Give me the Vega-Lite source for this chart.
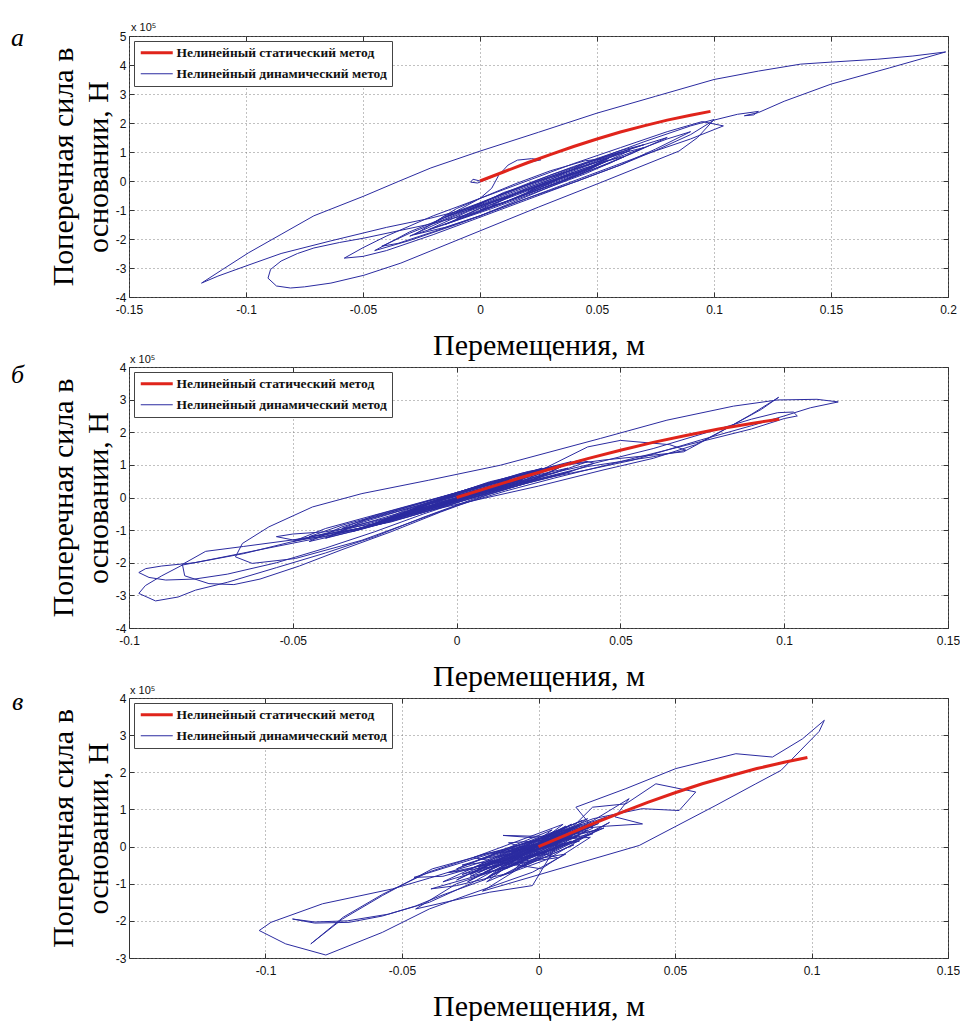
{
"$schema": "https://vega.github.io/schema/vega-lite/v6.json",
"background": "white",
"padding": {"left": 10, "top": 21, "right": 4, "bottom": 2},
"bounds": "flush",
"spacing": 70,
"config": {
  "view": {"stroke": "#333", "strokeWidth": 1},
  "axis": {"domain": false, "grid": true, "gridColor": "#777", "gridDash": [1, 3], "gridWidth": 1, "gridOpacity": 0.9, "tickCount": 20,
    "ticks": true, "tickSize": -5, "tickColor": "#333", "labelFont": "Liberation Sans", "labelFontSize": 12, "labelColor": "#111",
    "labelFlush": false, "labelOverlap": false, "titleFont": "Liberation Serif", "titleFontSize": 30, "titleFontWeight": "normal", "titleColor": "#000"},
  "axisX": {"labelPadding": 12, "titlePadding": 15},
  "axisY": {"labelPadding": 8, "titlePadding": 2, "titleLineHeight": 35},
  "legend": {"orient": "top-left", "offset": 5, "padding": 5, "fillColor": "white", "strokeColor": "#444", "cornerRadius": 0,
    "symbolType": "M-1,0H5.4", "symbolSize": 100, "labelFont": "Liberation Serif", "labelFontSize": 13.5, "labelFontWeight": "bold",
    "labelOffset": 24, "rowPadding": 6, "labelColor": "#111", "labelLimit": 400}
},
"resolve": {"scale": {"color": "independent", "x": "independent", "y": "independent"}, "legend": {"color": "independent"}},
"datasets": {
"stat": [{"i":0,"x":0,"y":0},{"i":1,"x":0.01,"y":0.31},{"i":2,"x":0.02,"y":0.62},{"i":3,"x":0.03,"y":0.91},{"i":4,"x":0.04,"y":1.19},{"i":5,"x":0.05,"y":1.45},{"i":6,"x":0.06,"y":1.69},{"i":7,"x":0.07,"y":1.9},{"i":8,"x":0.08,"y":2.1},{"i":9,"x":0.09,"y":2.27},{"i":10,"x":0.0985,"y":2.4}],
"a_dyn": [
{"i":0,"x":0,"y":0},{"i":1,"x":-0.003,"y":0.06},{"i":2,"x":-0.004,"y":-0.04},{"i":3,"x":-0.001,"y":-0.07},{"i":4,"x":0.004,"y":0.1},{"i":5,"x":0.01,"y":0.3},{"i":6,"x":0.016,"y":0.5},{"i":7,"x":0.022,"y":0.66},{"i":8,"x":0.026,"y":0.73},{"i":9,"x":0.022,"y":0.77},
{"i":10,"x":0.016,"y":0.72},{"i":11,"x":0.012,"y":0.55},{"i":12,"x":0.008,"y":0.2},{"i":13,"x":0.005,"y":-0.25},{"i":14,"x":0,"y":-0.6},{"i":15,"x":-0.008,"y":-0.95},{"i":16,"x":-0.015,"y":-1.25},{"i":17,"x":-0.02,"y":-1.45},{"i":18,"x":-0.01,"y":-0.95},{"i":19,"x":0,"y":-0.6},
{"i":20,"x":0.015,"y":-0.1},{"i":21,"x":0.03,"y":0.35},{"i":22,"x":0.045,"y":0.7},{"i":23,"x":0.055,"y":0.78},{"i":24,"x":0.045,"y":0.3},{"i":25,"x":0.03,"y":-0.2},{"i":26,"x":0.015,"y":-0.7},{"i":27,"x":0,"y":-1.2},{"i":28,"x":-0.015,"y":-1.6},{"i":29,"x":-0.028,"y":-1.85},
{"i":30,"x":-0.015,"y":-1.2},{"i":31,"x":0,"y":-0.75},{"i":32,"x":0.02,"y":-0.1},{"i":33,"x":0.04,"y":0.5},{"i":34,"x":0.06,"y":1.05},{"i":35,"x":0.07,"y":1.25},{"i":36,"x":0.05,"y":0.75},{"i":37,"x":0.03,"y":0.2},{"i":38,"x":0.01,"y":-0.45},{"i":39,"x":-0.005,"y":-0.95},
{"i":40,"x":-0.021,"y":-1.28},{"i":41,"x":-0.04,"y":-1.6},{"i":42,"x":-0.064,"y":-2.07},{"i":43,"x":-0.085,"y":-2.5},{"i":44,"x":-0.1,"y":-2.93},{"i":45,"x":-0.112,"y":-3.28},{"i":46,"x":-0.119,"y":-3.52},{"i":47,"x":-0.11,"y":-3.05},{"i":48,"x":-0.099,"y":-2.48},{"i":49,"x":-0.085,"y":-1.84},
{"i":50,"x":-0.071,"y":-1.2},{"i":51,"x":-0.0496,"y":-0.52},{"i":52,"x":-0.035,"y":-0.02},{"i":53,"x":-0.021,"y":0.45},{"i":54,"x":0,"y":1.03},{"i":55,"x":0.025,"y":1.68},{"i":56,"x":0.05,"y":2.34},{"i":57,"x":0.075,"y":2.92},{"i":58,"x":0.1,"y":3.5},{"i":59,"x":0.119,"y":3.79},
{"i":60,"x":0.137,"y":4.03},{"i":61,"x":0.15,"y":4.1},{"i":62,"x":0.17,"y":4.2},{"i":63,"x":0.185,"y":4.31},{"i":64,"x":0.199,"y":4.45},{"i":65,"x":0.175,"y":3.9},{"i":66,"x":0.15,"y":3.34},{"i":67,"x":0.13,"y":2.75},{"i":68,"x":0.119,"y":2.36},{"i":69,"x":0.113,"y":2.25},
{"i":70,"x":0.117,"y":2.28},{"i":71,"x":0.119,"y":2.4},{"i":72,"x":0.11,"y":2.3},{"i":73,"x":0.1,"y":2.1},{"i":74,"x":0.09,"y":1.6},{"i":75,"x":0.075,"y":1.05},{"i":76,"x":0.06,"y":0.55},{"i":77,"x":0.04,"y":-0.05},{"i":78,"x":0.02,"y":-0.65},{"i":79,"x":0,"y":-1.25},
{"i":80,"x":-0.02,"y":-1.85},{"i":81,"x":-0.04,"y":-2.4},{"i":82,"x":-0.05,"y":-2.6},{"i":83,"x":-0.058,"y":-2.66},{"i":84,"x":-0.05,"y":-2.3},{"i":85,"x":-0.04,"y":-1.9},{"i":86,"x":-0.02,"y":-1.2},{"i":87,"x":0,"y":-0.6},{"i":88,"x":0.02,"y":0},{"i":89,"x":0.04,"y":0.6},
{"i":90,"x":0.06,"y":1.15},{"i":91,"x":0.08,"y":1.7},{"i":92,"x":0.095,"y":2.05},{"i":93,"x":0.104,"y":1.9},{"i":94,"x":0.09,"y":1.45},{"i":95,"x":0.07,"y":0.9},{"i":96,"x":0.05,"y":0.3},{"i":97,"x":0.03,"y":-0.3},{"i":98,"x":0.01,"y":-0.9},{"i":99,"x":-0.01,"y":-1.5},
{"i":100,"x":-0.03,"y":-2.05},{"i":101,"x":-0.045,"y":-2.4},{"i":102,"x":-0.03,"y":-1.75},{"i":103,"x":-0.01,"y":-1.1},{"i":104,"x":0.01,"y":-0.45},{"i":105,"x":0.03,"y":0.15},{"i":106,"x":0.05,"y":0.75},{"i":107,"x":0.07,"y":1.35},{"i":108,"x":0.09,"y":1.9},{"i":109,"x":0.1,"y":2.12},
{"i":110,"x":0.093,"y":1.5},{"i":111,"x":0.085,"y":1.03},{"i":112,"x":0.0517,"y":-0.05},{"i":113,"x":0.025,"y":-0.9},{"i":114,"x":0,"y":-1.72},{"i":115,"x":-0.021,"y":-2.41},{"i":116,"x":-0.0338,"y":-2.83},{"i":117,"x":-0.0496,"y":-3.25},{"i":118,"x":-0.0637,"y":-3.52},{"i":119,"x":-0.075,"y":-3.65},
{"i":120,"x":-0.081,"y":-3.69},{"i":121,"x":-0.087,"y":-3.62},{"i":122,"x":-0.0906,"y":-3.35},{"i":123,"x":-0.0895,"y":-3.05},{"i":124,"x":-0.085,"y":-2.76},{"i":125,"x":-0.078,"y":-2.5},{"i":126,"x":-0.071,"y":-2.31},{"i":127,"x":-0.06,"y":-2.12},{"i":128,"x":-0.0496,"y":-1.97},{"i":129,"x":-0.035,"y":-1.72},
{"i":130,"x":-0.021,"y":-1.48},{"i":131,"x":-0.005,"y":-1.15},{"i":132,"x":0.01,"y":-0.75},{"i":133,"x":0.02,"y":-0.4},{"i":134,"x":0.035,"y":0.1},{"i":135,"x":0.05,"y":0.55},{"i":136,"x":0.065,"y":1},{"i":137,"x":0.08,"y":1.45},{"i":138,"x":0.09,"y":1.7},{"i":139,"x":0.075,"y":1.1},
{"i":140,"x":0.06,"y":0.55},{"i":141,"x":0.04,"y":-0.05},{"i":142,"x":0.02,"y":-0.6},{"i":143,"x":0,"y":-1.2},{"i":144,"x":-0.02,"y":-1.75},{"i":145,"x":-0.035,"y":-2.15},{"i":146,"x":-0.042,"y":-2.25},{"i":147,"x":-0.03,"y":-1.8},{"i":148,"x":-0.01,"y":-1.15},{"i":149,"x":0.01,"y":-0.5},
{"i":150,"x":0.03,"y":0.1},{"i":151,"x":0.05,"y":0.7},{"i":152,"x":0.068,"y":1.2},{"i":153,"x":0.08,"y":1.5},{"i":154,"x":0.065,"y":0.95},{"i":155,"x":0.045,"y":0.3},{"i":156,"x":0.025,"y":-0.3},{"i":157,"x":0.005,"y":-0.9},{"i":158,"x":-0.015,"y":-1.5},{"i":159,"x":-0.03,"y":-1.9},
{"i":160,"x":-0.015,"y":-1.35},{"i":161,"x":0.005,"y":-0.7},{"i":162,"x":0.025,"y":-0.1},{"i":163,"x":0.045,"y":0.5},{"i":164,"x":0.06,"y":0.95},{"i":165,"x":0.07,"y":1.15},{"i":166,"x":0.055,"y":0.6},{"i":167,"x":0.035,"y":0},{"i":168,"x":0.015,"y":-0.6},{"i":169,"x":-0.005,"y":-1.2},
{"i":170,"x":-0.022,"y":-1.68},{"i":171,"x":-0.005,"y":-1.05},{"i":172,"x":0.015,"y":-0.45},{"i":173,"x":0.035,"y":0.15},{"i":174,"x":0.052,"y":0.65},{"i":175,"x":0.062,"y":0.85},{"i":176,"x":0.045,"y":0.25},{"i":177,"x":0.025,"y":-0.35},{"i":178,"x":0.005,"y":-0.95},{"i":179,"x":-0.015,"y":-1.5},
{"i":180,"x":0,"y":-0.95},{"i":181,"x":0.02,"y":-0.35},{"i":182,"x":0.04,"y":0.25},{"i":183,"x":0.055,"y":0.72},{"i":184,"x":0.04,"y":0.15},{"i":185,"x":0.02,"y":-0.45},{"i":186,"x":0,"y":-1.05},{"i":187,"x":-0.01,"y":-1.3},{"i":188,"x":0.005,"y":-0.75},{"i":189,"x":0.025,"y":-0.15},
{"i":190,"x":0.045,"y":0.45},{"i":191,"x":0.05,"y":0.55},{"i":192,"x":0.035,"y":0},{"i":193,"x":0.015,"y":-0.6},{"i":194,"x":0,"y":-1},{"i":195,"x":0.015,"y":-0.45},{"i":196,"x":0.03,"y":0},{"i":197,"x":0.04,"y":0.3},{"i":198,"x":0.025,"y":-0.25},{"i":199,"x":0.01,"y":-0.75},
{"i":200,"x":0.005,"y":-0.85},{"i":201,"x":0.02,"y":-0.25},{"i":202,"x":0.03,"y":0.05},{"i":203,"x":0.045,"y":0.6},{"i":204,"x":0.06,"y":1},{"i":205,"x":0.045,"y":0.4},{"i":206,"x":0.02,"y":-0.3},{"i":207,"x":0,"y":-0.85},{"i":208,"x":-0.015,"y":-1.25},{"i":209,"x":0.005,"y":-0.6},
{"i":210,"x":0.03,"y":0.15},{"i":211,"x":0.05,"y":0.65},{"i":212,"x":0.064,"y":1.05},{"i":213,"x":0.048,"y":0.45},{"i":214,"x":0.028,"y":-0.1},{"i":215,"x":0.01,"y":-0.6},{"i":216,"x":-0.005,"y":-1},{"i":217,"x":0.01,"y":-0.4},{"i":218,"x":0.035,"y":0.25},{"i":219,"x":0.055,"y":0.8},
{"i":220,"x":0.04,"y":0.2},{"i":221,"x":0.02,"y":-0.4},{"i":222,"x":0.028,"y":-0.05}
],
"b_dyn": [
{"i":0,"x":0,"y":0},{"i":1,"x":0.005,"y":0.2},{"i":2,"x":0.01,"y":0.32},{"i":3,"x":0.006,"y":0.12},{"i":4,"x":-0.002,"y":-0.12},{"i":5,"x":-0.008,"y":-0.28},{"i":6,"x":-0.004,"y":-0.05},{"i":7,"x":0.006,"y":0.3},{"i":8,"x":0.014,"y":0.5},{"i":9,"x":0.008,"y":0.15},
{"i":10,"x":-0.004,"y":-0.22},{"i":11,"x":-0.014,"y":-0.45},{"i":12,"x":-0.006,"y":-0.1},{"i":13,"x":0.008,"y":0.4},{"i":14,"x":0.018,"y":0.65},{"i":15,"x":0.01,"y":0.25},{"i":16,"x":-0.005,"y":-0.25},{"i":17,"x":-0.018,"y":-0.6},{"i":18,"x":-0.008,"y":-0.15},{"i":19,"x":0.01,"y":0.45},
{"i":20,"x":0.024,"y":0.8},{"i":21,"x":0.012,"y":0.3},{"i":22,"x":-0.006,"y":-0.3},{"i":23,"x":-0.022,"y":-0.72},{"i":24,"x":-0.01,"y":-0.2},{"i":25,"x":0.01,"y":0.48},{"i":26,"x":0.03,"y":0.95},{"i":27,"x":0.045,"y":1.15},{"i":28,"x":0.06,"y":1.3},{"i":29,"x":0.0693,"y":1.4},
{"i":30,"x":0.08,"y":1.98},{"i":31,"x":0.09,"y":2.55},{"i":32,"x":0.0983,"y":3.07},{"i":33,"x":0.093,"y":2.7},{"i":34,"x":0.083,"y":2.15},{"i":35,"x":0.073,"y":1.62},{"i":36,"x":0.06,"y":1.2},{"i":37,"x":0.045,"y":0.85},{"i":38,"x":0.025,"y":0.35},{"i":39,"x":0.005,"y":-0.1},
{"i":40,"x":-0.015,"y":-0.55},{"i":41,"x":-0.03,"y":-0.95},{"i":42,"x":-0.045,"y":-1.3},{"i":43,"x":-0.06,"y":-1.6},{"i":44,"x":-0.075,"y":-1.9},{"i":45,"x":-0.0837,"y":-2.07},{"i":46,"x":-0.09,"y":-2.4},{"i":47,"x":-0.095,"y":-2.7},{"i":48,"x":-0.097,"y":-2.94},{"i":49,"x":-0.0919,"y":-3.17},
{"i":50,"x":-0.085,"y":-3.05},{"i":51,"x":-0.0797,"y":-2.84},{"i":52,"x":-0.07,"y":-2.6},{"i":53,"x":-0.055,"y":-2.15},{"i":54,"x":-0.04,"y":-1.7},{"i":55,"x":-0.025,"y":-1.2},{"i":56,"x":-0.01,"y":-0.6},{"i":57,"x":0.005,"y":-0.05},{"i":58,"x":0.02,"y":0.4},{"i":59,"x":0.035,"y":0.8},
{"i":60,"x":0.042,"y":1.05},{"i":61,"x":0.038,"y":1.15},{"i":62,"x":0.03,"y":0.95},{"i":63,"x":0.015,"y":0.5},{"i":64,"x":0,"y":0.05},{"i":65,"x":-0.015,"y":-0.4},{"i":66,"x":-0.03,"y":-0.85},{"i":67,"x":-0.05,"y":-1.35},{"i":68,"x":-0.065,"y":-1.72},{"i":69,"x":-0.08,"y":-2},
{"i":70,"x":-0.09,"y":-2.1},{"i":71,"x":-0.0949,"y":-2.18},{"i":72,"x":-0.097,"y":-2.3},{"i":73,"x":-0.0939,"y":-2.45},{"i":74,"x":-0.0888,"y":-2.53},{"i":75,"x":-0.08,"y":-2.5},{"i":76,"x":-0.07,"y":-2.35},{"i":77,"x":-0.055,"y":-2},{"i":78,"x":-0.04,"y":-1.55},{"i":79,"x":-0.025,"y":-1.05},
{"i":80,"x":-0.01,"y":-0.5},{"i":81,"x":0.005,"y":0},{"i":82,"x":0.02,"y":0.45},{"i":83,"x":0.035,"y":0.8},{"i":84,"x":0.028,"y":0.6},{"i":85,"x":0.012,"y":0.2},{"i":86,"x":-0.005,"y":-0.3},{"i":87,"x":-0.02,"y":-0.75},{"i":88,"x":-0.035,"y":-1.05},{"i":89,"x":-0.05,"y":-1.3},
{"i":90,"x":-0.065,"y":-1.5},{"i":91,"x":-0.0766,"y":-1.65},{"i":92,"x":-0.0837,"y":-2.05},{"i":93,"x":-0.083,"y":-2.4},{"i":94,"x":-0.0756,"y":-2.64},{"i":95,"x":-0.068,"y":-2.67},{"i":96,"x":-0.06,"y":-2.5},{"i":97,"x":-0.048,"y":-2.1},{"i":98,"x":-0.035,"y":-1.6},{"i":99,"x":-0.02,"y":-1.05},
{"i":100,"x":-0.005,"y":-0.45},{"i":101,"x":0.01,"y":0.1},{"i":102,"x":0.025,"y":0.55},{"i":103,"x":0.04,"y":0.85},{"i":104,"x":0.054,"y":1.15},{"i":105,"x":0.0744,"y":1.76},{"i":106,"x":0.09,"y":2.2},{"i":107,"x":0.1,"y":2.5},{"i":108,"x":0.108,"y":2.75},{"i":109,"x":0.1165,"y":2.93},
{"i":110,"x":0.11,"y":3.01},{"i":111,"x":0.098,"y":2.99},{"i":112,"x":0.0845,"y":2.8},{"i":113,"x":0.0642,"y":2.37},{"i":114,"x":0.0439,"y":1.81},{"i":115,"x":0.0134,"y":0.99},{"i":116,"x":-0.0085,"y":0.53},{"i":117,"x":-0.0289,"y":0.12},{"i":118,"x":-0.044,"y":-0.29},{"i":119,"x":-0.0573,"y":-0.9},
{"i":120,"x":-0.0654,"y":-1.41},{"i":121,"x":-0.0675,"y":-1.82},{"i":122,"x":-0.0624,"y":-2.02},{"i":123,"x":-0.0492,"y":-1.87},{"i":124,"x":-0.0289,"y":-1.31},{"i":125,"x":-0.015,"y":-0.8},{"i":126,"x":0,"y":-0.25},{"i":127,"x":0.015,"y":0.2},{"i":128,"x":0.03,"y":0.6},{"i":129,"x":0.05,"y":1.1},
{"i":130,"x":0.07,"y":1.6},{"i":131,"x":0.09,"y":2.1},{"i":132,"x":0.1,"y":2.42},{"i":133,"x":0.104,"y":2.5},{"i":134,"x":0.1028,"y":2.62},{"i":135,"x":0.098,"y":2.6},{"i":136,"x":0.09,"y":2.4},{"i":137,"x":0.075,"y":1.95},{"i":138,"x":0.06,"y":1.5},{"i":139,"x":0.04,"y":1},
{"i":140,"x":0.025,"y":0.65},{"i":141,"x":0.005,"y":0.15},{"i":142,"x":-0.01,"y":-0.3},{"i":143,"x":-0.025,"y":-0.8},{"i":144,"x":-0.04,"y":-1.05},{"i":145,"x":-0.05,"y":-1.12},{"i":146,"x":-0.055,"y":-1.2},{"i":147,"x":-0.05,"y":-1.3},{"i":148,"x":-0.04,"y":-1.2},{"i":149,"x":-0.025,"y":-0.85},
{"i":150,"x":-0.01,"y":-0.4},{"i":151,"x":0.005,"y":0.1},{"i":152,"x":0.02,"y":0.55},{"i":153,"x":0.03,"y":1.05},{"i":154,"x":0.04,"y":1.55},{"i":155,"x":0.05,"y":1.75},{"i":156,"x":0.065,"y":1.62},{"i":157,"x":0.07,"y":1.45},{"i":158,"x":0.06,"y":1.25},{"i":159,"x":0.04,"y":0.95},
{"i":160,"x":0.03,"y":0.7},{"i":161,"x":0.015,"y":0.3},{"i":162,"x":0,"y":-0.05},{"i":163,"x":-0.015,"y":-0.5},{"i":164,"x":-0.028,"y":-0.9},{"i":165,"x":-0.018,"y":-0.55},{"i":166,"x":-0.005,"y":-0.15},{"i":167,"x":0.01,"y":0.3},{"i":168,"x":0.025,"y":0.7},{"i":169,"x":0.034,"y":0.9},
{"i":170,"x":0.022,"y":0.5},{"i":171,"x":0.008,"y":0.1},{"i":172,"x":-0.008,"y":-0.35},{"i":173,"x":-0.024,"y":-0.8},{"i":174,"x":-0.012,"y":-0.4},{"i":175,"x":0.004,"y":0.05},{"i":176,"x":0.018,"y":0.45},{"i":177,"x":0.028,"y":0.75},{"i":178,"x":0.016,"y":0.35},{"i":179,"x":0.002,"y":-0.05},
{"i":180,"x":-0.012,"y":-0.45},{"i":181,"x":-0.02,"y":-0.65},{"i":182,"x":-0.008,"y":-0.25},{"i":183,"x":0.006,"y":0.15},{"i":184,"x":0.02,"y":0.55},{"i":185,"x":0.012,"y":0.3},{"i":186,"x":-0.002,"y":-0.1},{"i":187,"x":-0.014,"y":-0.4},{"i":188,"x":-0.004,"y":-0.05},{"i":189,"x":0.01,"y":0.35},
{"i":190,"x":0.028,"y":0.85},{"i":191,"x":0.02,"y":0.5},{"i":192,"x":0,"y":-0.05},{"i":193,"x":-0.02,"y":-0.6},{"i":194,"x":-0.035,"y":-0.95},{"i":195,"x":-0.025,"y":-0.55},{"i":196,"x":-0.005,"y":0},{"i":197,"x":0.015,"y":0.55},{"i":198,"x":0.026,"y":0.9},{"i":199,"x":0.018,"y":0.45},
{"i":200,"x":0,"y":-0.1},{"i":201,"x":-0.018,"y":-0.65},{"i":202,"x":-0.032,"y":-1.05},{"i":203,"x":-0.02,"y":-0.6},{"i":204,"x":0,"y":0.1},{"i":205,"x":0.02,"y":0.7},{"i":206,"x":0.032,"y":0.95},{"i":207,"x":0.02,"y":0.4},{"i":208,"x":0.002,"y":-0.1},{"i":209,"x":-0.015,"y":-0.6},
{"i":210,"x":-0.04,"y":-1.25},{"i":211,"x":-0.03,"y":-0.8},{"i":212,"x":-0.012,"y":-0.25},{"i":213,"x":0.008,"y":0.35},{"i":214,"x":0.022,"y":0.75},{"i":215,"x":0.012,"y":0.3},{"i":216,"x":-0.006,"y":-0.25},{"i":217,"x":-0.026,"y":-0.85},{"i":218,"x":-0.016,"y":-0.4},{"i":219,"x":0,"y":0.1},
{"i":220,"x":0.016,"y":0.55},{"i":221,"x":0.006,"y":0.15},{"i":222,"x":-0.01,"y":-0.35},{"i":223,"x":-0.03,"y":-0.95},{"i":224,"x":-0.045,"y":-1.2},{"i":225,"x":-0.035,"y":-0.85},{"i":226,"x":-0.015,"y":-0.3},{"i":227,"x":0.005,"y":0.3},{"i":228,"x":0.025,"y":0.85},{"i":229,"x":0.035,"y":1.1},
{"i":230,"x":0.025,"y":0.6},{"i":231,"x":0.008,"y":0.15},{"i":232,"x":-0.01,"y":-0.4},{"i":233,"x":-0.022,"y":-0.7},{"i":234,"x":-0.012,"y":-0.3},{"i":235,"x":0.003,"y":0.12},{"i":236,"x":0.014,"y":0.42},{"i":237,"x":0.004,"y":0.08},{"i":238,"x":-0.008,"y":-0.2},{"i":239,"x":-0.025,"y":-0.75},
{"i":240,"x":-0.042,"y":-1.2},{"i":241,"x":-0.05,"y":-1.35},{"i":242,"x":-0.04,"y":-0.95},{"i":243,"x":-0.02,"y":-0.4},{"i":244,"x":0,"y":0.15},{"i":245,"x":0.02,"y":0.75},{"i":246,"x":0.035,"y":1.05},{"i":247,"x":0.04,"y":1.1},{"i":248,"x":0.03,"y":0.75},{"i":249,"x":0.01,"y":0.2},
{"i":250,"x":-0.01,"y":-0.45},{"i":251,"x":-0.03,"y":-1},{"i":252,"x":-0.045,"y":-1.35},{"i":253,"x":-0.035,"y":-0.9},{"i":254,"x":-0.015,"y":-0.3},{"i":255,"x":0.005,"y":0.3},{"i":256,"x":0.022,"y":0.8},{"i":257,"x":0.03,"y":0.95},{"i":258,"x":0.018,"y":0.5},{"i":259,"x":0,"y":-0.05},
{"i":260,"x":-0.02,"y":-0.7},{"i":261,"x":-0.038,"y":-1.15},{"i":262,"x":-0.028,"y":-0.7},{"i":263,"x":-0.01,"y":-0.2},{"i":264,"x":0.01,"y":0.4},{"i":265,"x":0.026,"y":0.85},{"i":266,"x":0.014,"y":0.35},{"i":267,"x":-0.004,"y":-0.2},{"i":268,"x":-0.022,"y":-0.75},{"i":269,"x":-0.012,"y":-0.3},
{"i":270,"x":0.005,"y":0.2}
],
"c_dyn": [
{"i":0,"x":0,"y":0},{"i":1,"x":0.004,"y":0.25},{"i":2,"x":-0.003,"y":-0.05},{"i":3,"x":0.007,"y":0.3},{"i":4,"x":-0.006,"y":-0.15},{"i":5,"x":0.009,"y":0.4},{"i":6,"x":-0.01,"y":-0.35},{"i":7,"x":0.012,"y":0.45},{"i":8,"x":-0.012,"y":-0.25},{"i":9,"x":0.015,"y":0.55},
{"i":10,"x":-0.015,"y":-0.45},{"i":11,"x":0.01,"y":0.2},{"i":12,"x":-0.018,"y":-0.5},{"i":13,"x":0.018,"y":0.6},{"i":14,"x":-0.02,"y":-0.55},{"i":15,"x":0.014,"y":0.25},{"i":16,"x":-0.013,"y":0.3},{"i":17,"x":0.005,"y":0.2},{"i":18,"x":-0.022,"y":-0.7},{"i":19,"x":0.02,"y":0.55},
{"i":20,"x":-0.025,"y":-0.6},{"i":21,"x":0.016,"y":0.7},{"i":22,"x":-0.02,"y":-0.4},{"i":23,"x":-0.04,"y":-0.85},{"i":24,"x":-0.0535,"y":-1.14},{"i":25,"x":-0.0791,"y":-1.54},{"i":26,"x":-0.098,"y":-2.04},{"i":27,"x":-0.1023,"y":-2.26},{"i":28,"x":-0.0926,"y":-2.62},{"i":29,"x":-0.0779,"y":-2.92},
{"i":30,"x":-0.0572,"y":-2.31},{"i":31,"x":-0.04,"y":-1.68},{"i":32,"x":-0.0266,"y":-1.32},{"i":33,"x":-0.0022,"y":-0.69},{"i":34,"x":0.01,"y":-0.2},{"i":35,"x":-0.01,"y":-0.45},{"i":36,"x":0.015,"y":0.4},{"i":37,"x":-0.018,"y":-0.8},{"i":38,"x":0.02,"y":0.5},{"i":39,"x":0.0137,"y":1.06},
{"i":40,"x":0.032,"y":1.56},{"i":41,"x":0.0503,"y":2.1},{"i":42,"x":0.0723,"y":2.5},{"i":43,"x":0.0857,"y":2.41},{"i":44,"x":0.0967,"y":2.9},{"i":45,"x":0.1047,"y":3.4},{"i":46,"x":0.1028,"y":3.1},{"i":47,"x":0.0888,"y":2.05},{"i":48,"x":0.0796,"y":1.69},{"i":49,"x":0.065,"y":1.11},
{"i":50,"x":0.0369,"y":0.03},{"i":51,"x":-0.0205,"y":-1.2},{"i":52,"x":-0.003,"y":-0.4},{"i":53,"x":-0.025,"y":-0.8},{"i":54,"x":0.012,"y":0.5},{"i":55,"x":-0.025,"y":-1},{"i":56,"x":-0.04,"y":-1.5},{"i":57,"x":-0.055,"y":-1.82},{"i":58,"x":-0.07,"y":-2},{"i":59,"x":-0.082,"y":-2.03},
{"i":60,"x":-0.0901,"y":-1.95},{"i":61,"x":-0.082,"y":-2.06},{"i":62,"x":-0.0694,"y":-2.04},{"i":63,"x":-0.0572,"y":-1.87},{"i":64,"x":-0.045,"y":-1.6},{"i":65,"x":-0.035,"y":-1.3},{"i":66,"x":-0.02,"y":-0.9},{"i":67,"x":-0.005,"y":-0.3},{"i":68,"x":0.01,"y":0.1},{"i":69,"x":-0.012,"y":-0.6},
{"i":70,"x":0.008,"y":0.35},{"i":71,"x":-0.0389,"y":-0.6},{"i":72,"x":-0.0572,"y":-1.32},{"i":73,"x":-0.0718,"y":-1.95},{"i":74,"x":-0.0834,"y":-2.62},{"i":75,"x":-0.0715,"y":-1.9},{"i":76,"x":-0.057,"y":-1.28},{"i":77,"x":-0.04,"y":-0.68},{"i":78,"x":-0.02,"y":-0.2},{"i":79,"x":0.005,"y":0.15},
{"i":80,"x":-0.016,"y":-0.65},{"i":81,"x":-0.0394,"y":-1.14},{"i":82,"x":-0.03,"y":-1.05},{"i":83,"x":-0.01,"y":-0.7},{"i":84,"x":0.004,"y":0.3},{"i":85,"x":-0.0456,"y":-0.83},{"i":86,"x":-0.035,"y":-0.8},{"i":87,"x":0.006,"y":0.05},{"i":88,"x":0.0198,"y":1.06},{"i":89,"x":0.032,"y":1.15},
{"i":90,"x":0.043,"y":1.69},{"i":91,"x":0.0576,"y":1.47},{"i":92,"x":0.0515,"y":0.97},{"i":93,"x":0.038,"y":1.02},{"i":94,"x":0.02,"y":0.75},{"i":95,"x":0,"y":0.2},{"i":96,"x":0.02,"y":0.7},{"i":97,"x":0.0332,"y":1.29},{"i":98,"x":0.028,"y":0.8},{"i":99,"x":0.0381,"y":0.61},
{"i":100,"x":0.025,"y":0.55},{"i":101,"x":0.01,"y":0.45},{"i":102,"x":-0.0022,"y":-1.05},{"i":103,"x":-0.018,"y":-1.23},{"i":104,"x":-0.045,"y":-1.68},{"i":105,"x":-0.03,"y":-1},{"i":106,"x":-0.01,"y":-0.5},{"i":107,"x":0.012,"y":0.15},{"i":108,"x":-0.008,"y":-0.6},{"i":109,"x":0.018,"y":0.45},
{"i":110,"x":-0.015,"y":-0.3},{"i":111,"x":0.022,"y":0.62},{"i":112,"x":-0.02,"y":-0.7},{"i":113,"x":0.01,"y":0.35},{"i":114,"x":-0.028,"y":-0.75},{"i":115,"x":0.005,"y":-0.1},{"i":116,"x":0.024,"y":0.5},{"i":117,"x":-0.01,"y":-0.15},{"i":118,"x":0.015,"y":0.3},{"i":119,"x":-0.018,"y":-0.45},
{"i":120,"x":0.008,"y":0.4},{"i":121,"x":-0.005,"y":-0.3},{"i":122,"x":0.012,"y":0.25},{"i":123,"x":0,"y":0.05},{"i":124,"x":-0.022,"y":-0.55},{"i":125,"x":0.006,"y":0.4},{"i":126,"x":-0.03,"y":-0.9},{"i":127,"x":-0.006,"y":-0.05},{"i":128,"x":-0.025,"y":-0.75},{"i":129,"x":0.01,"y":0.55},
{"i":130,"x":-0.015,"y":-0.65},{"i":131,"x":0.02,"y":0.35},{"i":132,"x":-0.012,"y":-0.15},{"i":133,"x":0.025,"y":0.8},{"i":134,"x":-0.008,"y":-0.45},{"i":135,"x":0.018,"y":0.75},{"i":136,"x":-0.03,"y":-0.6},{"i":137,"x":0.005,"y":0.45},{"i":138,"x":-0.02,"y":-0.9},{"i":139,"x":0.012,"y":0.6},
{"i":140,"x":-0.026,"y":-0.95},{"i":141,"x":0.002,"y":0.1},{"i":142,"x":-0.017,"y":-0.2},{"i":143,"x":0.015,"y":0.15},{"i":144,"x":-0.035,"y":-0.95},{"i":145,"x":-0.01,"y":-0.1},{"i":146,"x":-0.028,"y":-0.5},{"i":147,"x":0.004,"y":-0.2},{"i":148,"x":0.022,"y":0.45},{"i":149,"x":-0.004,"y":0.1},
{"i":150,"x":0.016,"y":0.6},{"i":151,"x":-0.022,"y":-0.35},{"i":152,"x":0.008,"y":0.05},{"i":153,"x":-0.014,"y":-0.8},{"i":154,"x":0.003,"y":-0.35},{"i":155,"x":0.026,"y":0.65},{"i":156,"x":-0.006,"y":-0.55},{"i":157,"x":0.013,"y":0.05},{"i":158,"x":-0.019,"y":-0.95},{"i":159,"x":0.009,"y":0.6},
{"i":160,"x":-0.024,"y":-0.3},{"i":161,"x":0.001,"y":-0.6},{"i":162,"x":0.019,"y":0.25},{"i":163,"x":-0.011,"y":0.1},{"i":164,"x":0.007,"y":-0.3},{"i":165,"x":-0.033,"y":-0.7},{"i":166,"x":0,"y":-0.2},{"i":167,"x":0.017,"y":0.5},{"i":168,"x":-0.009,"y":-0.35},{"i":169,"x":0.01,"y":0.2}
]
},
"vconcat": [
{
  "width": 819, "height": 261,
  "resolve": {"axis": {"x": "independent", "y": "independent"}},
  "layer": [
    {"data": {"name": "a_dyn"}, "mark": {"type": "line", "strokeWidth": 1, "clip": true, "strokeJoin": "round"},
     "encoding": {
       "x": {"field": "x", "type": "quantitative", "title": "Перемещения, м", "scale": {"domain": [-0.15, 0.2], "nice": false, "zero": false}, "axis": {"values": [-0.15, -0.1, -0.05, 0, 0.05, 0.1, 0.15, 0.2], "tickCount": 20, "labelExpr": "'' + datum.value", "labelOverlap": false}},
       "y": {"field": "y", "type": "quantitative", "title": ["Поперечная сила в", "основании, Н"], "scale": {"domain": [-4, 5], "nice": false, "zero": false}, "axis": {"values": [-4, -3, -2, -1, 0, 1, 2, 3, 4, 5], "tickCount": 20, "labelExpr": "'' + datum.value", "labelOverlap": false}},
       "order": {"field": "i", "type": "quantitative"},
       "color": {"datum": "Нелинейный динамический метод", "type": "nominal", "scale": {"domain": ["Нелинейный статический метод", "Нелинейный динамический метод"], "range": ["#e0241b", "#2b2ba0"]},
         "legend": {"title": null, "encode": {"symbols": {"update": {"strokeWidth": {"signal": "datum.value === 'Нелинейный статический метод' ? 3 : 1"}}}}}}
     }},
    {"data": {"name": "stat"}, "mark": {"type": "line", "strokeWidth": 3, "clip": true},
     "encoding": {
       "x": {"field": "x", "type": "quantitative", "axis": null},
       "y": {"field": "y", "type": "quantitative", "axis": null},
       "order": {"field": "i", "type": "quantitative"},
       "color": {"datum": "Нелинейный статический метод", "type": "nominal"}
     }},
    {"data": {"values": [{"t": "а"}]}, "mark": {"type": "text", "align": "left", "baseline": "alphabetic", "dx": -118, "dy": 10, "font": "Liberation Serif", "fontStyle": "italic", "fontSize": 26, "color": "#000"},
     "encoding": {"x": {"datum": -0.15, "type": "quantitative", "axis": null}, "y": {"datum": 5, "type": "quantitative", "axis": null}, "text": {"field": "t"}}},
    {"data": {"values": [{"t": "x 10⁵"}]}, "mark": {"type": "text", "align": "left", "baseline": "alphabetic", "dx": 2, "dy": -5, "font": "Liberation Sans", "fontSize": 11, "color": "#111"},
     "encoding": {"x": {"datum": -0.15, "type": "quantitative", "axis": null}, "y": {"datum": 5, "type": "quantitative", "axis": null}, "text": {"field": "t"}}},
    {"data": {"name": "stat"}, "mark": {"type": "line", "opacity": 0},
     "encoding": {
       "x": {"field": "x", "type": "quantitative", "axis": {"orient": "top", "labels": false, "grid": false, "title": null, "values": [-0.15, -0.1, -0.05, 0, 0.05, 0.1, 0.15, 0.2], "tickCount": 20}},
       "y": {"field": "y", "type": "quantitative", "axis": {"orient": "right", "labels": false, "grid": false, "title": null, "values": [-4, -3, -2, -1, 0, 1, 2, 3, 4, 5], "tickCount": 20}}
     }}
  ]
},
{
  "width": 819, "height": 261,
  "resolve": {"axis": {"x": "independent", "y": "independent"}},
  "layer": [
    {"data": {"name": "b_dyn"}, "mark": {"type": "line", "strokeWidth": 1, "clip": true, "strokeJoin": "round"},
     "encoding": {
       "x": {"field": "x", "type": "quantitative", "title": "Перемещения, м", "scale": {"domain": [-0.1, 0.15], "nice": false, "zero": false}, "axis": {"values": [-0.1, -0.05, 0, 0.05, 0.1, 0.15], "tickCount": 20, "labelExpr": "'' + datum.value", "labelOverlap": false}},
       "y": {"field": "y", "type": "quantitative", "title": ["Поперечная сила в", "основании, Н"], "scale": {"domain": [-4, 4], "nice": false, "zero": false}, "axis": {"values": [-4, -3, -2, -1, 0, 1, 2, 3, 4], "tickCount": 20, "labelExpr": "'' + datum.value", "labelOverlap": false}},
       "order": {"field": "i", "type": "quantitative"},
       "color": {"datum": "Нелинейный динамический метод", "type": "nominal", "scale": {"domain": ["Нелинейный статический метод", "Нелинейный динамический метод"], "range": ["#e0241b", "#2b2ba0"]},
         "legend": {"title": null, "encode": {"symbols": {"update": {"strokeWidth": {"signal": "datum.value === 'Нелинейный статический метод' ? 3 : 1"}}}}}}
     }},
    {"data": {"name": "stat"}, "mark": {"type": "line", "strokeWidth": 3, "clip": true},
     "encoding": {
       "x": {"field": "x", "type": "quantitative", "axis": null},
       "y": {"field": "y", "type": "quantitative", "axis": null},
       "order": {"field": "i", "type": "quantitative"},
       "color": {"datum": "Нелинейный статический метод", "type": "nominal"}
     }},
    {"data": {"values": [{"t": "б"}]}, "mark": {"type": "text", "align": "left", "baseline": "alphabetic", "dx": -118, "dy": 16, "font": "Liberation Serif", "fontStyle": "italic", "fontSize": 26, "color": "#000"},
     "encoding": {"x": {"datum": -0.1, "type": "quantitative", "axis": null}, "y": {"datum": 4, "type": "quantitative", "axis": null}, "text": {"field": "t"}}},
    {"data": {"values": [{"t": "x 10⁵"}]}, "mark": {"type": "text", "align": "left", "baseline": "alphabetic", "dx": 1, "dy": -4, "font": "Liberation Sans", "fontSize": 11, "color": "#111"},
     "encoding": {"x": {"datum": -0.1, "type": "quantitative", "axis": null}, "y": {"datum": 4, "type": "quantitative", "axis": null}, "text": {"field": "t"}}},
    {"data": {"name": "stat"}, "mark": {"type": "line", "opacity": 0},
     "encoding": {
       "x": {"field": "x", "type": "quantitative", "axis": {"orient": "top", "labels": false, "grid": false, "title": null, "values": [-0.1, -0.05, 0, 0.05, 0.1, 0.15], "tickCount": 20}},
       "y": {"field": "y", "type": "quantitative", "axis": {"orient": "right", "labels": false, "grid": false, "title": null, "values": [-4, -3, -2, -1, 0, 1, 2, 3, 4], "tickCount": 20}}
     }}
  ]
},
{
  "width": 819, "height": 260,
  "resolve": {"axis": {"x": "independent", "y": "independent"}},
  "layer": [
    {"data": {"name": "c_dyn"}, "mark": {"type": "line", "strokeWidth": 1, "clip": true, "strokeJoin": "round"},
     "encoding": {
       "x": {"field": "x", "type": "quantitative", "title": "Перемещения, м", "scale": {"domain": [-0.15, 0.15], "nice": false, "zero": false}, "axis": {"values": [-0.1, -0.05, 0, 0.05, 0.1, 0.15], "tickCount": 20, "labelExpr": "'' + datum.value", "labelOverlap": false}},
       "y": {"field": "y", "type": "quantitative", "title": ["Поперечная сила в", "основании, Н"], "scale": {"domain": [-3, 4], "nice": false, "zero": false}, "axis": {"values": [-3, -2, -1, 0, 1, 2, 3, 4], "tickCount": 20, "labelExpr": "'' + datum.value", "labelOverlap": false}},
       "order": {"field": "i", "type": "quantitative"},
       "color": {"datum": "Нелинейный динамический метод", "type": "nominal", "scale": {"domain": ["Нелинейный статический метод", "Нелинейный динамический метод"], "range": ["#e0241b", "#2b2ba0"]},
         "legend": {"title": null, "encode": {"symbols": {"update": {"strokeWidth": {"signal": "datum.value === 'Нелинейный статический метод' ? 3 : 1"}}}}}}
     }},
    {"data": {"name": "stat"}, "mark": {"type": "line", "strokeWidth": 3, "clip": true},
     "encoding": {
       "x": {"field": "x", "type": "quantitative", "axis": null},
       "y": {"field": "y", "type": "quantitative", "axis": null},
       "order": {"field": "i", "type": "quantitative"},
       "color": {"datum": "Нелинейный статический метод", "type": "nominal"}
     }},
    {"data": {"values": [{"t": "в"}]}, "mark": {"type": "text", "align": "left", "baseline": "alphabetic", "dx": -117, "dy": 12, "font": "Liberation Serif", "fontStyle": "italic", "fontSize": 26, "color": "#000"},
     "encoding": {"x": {"datum": -0.15, "type": "quantitative", "axis": null}, "y": {"datum": 4, "type": "quantitative", "axis": null}, "text": {"field": "t"}}},
    {"data": {"values": [{"t": "x 10⁵"}]}, "mark": {"type": "text", "align": "left", "baseline": "alphabetic", "dx": 1, "dy": -4, "font": "Liberation Sans", "fontSize": 11, "color": "#111"},
     "encoding": {"x": {"datum": -0.15, "type": "quantitative", "axis": null}, "y": {"datum": 4, "type": "quantitative", "axis": null}, "text": {"field": "t"}}},
    {"data": {"name": "stat"}, "mark": {"type": "line", "opacity": 0},
     "encoding": {
       "x": {"field": "x", "type": "quantitative", "axis": {"orient": "top", "labels": false, "grid": false, "title": null, "values": [-0.1, -0.05, 0, 0.05, 0.1, 0.15], "tickCount": 20}},
       "y": {"field": "y", "type": "quantitative", "axis": {"orient": "right", "labels": false, "grid": false, "title": null, "values": [-3, -2, -1, 0, 1, 2, 3, 4], "tickCount": 20}}
     }}
  ]
}
]
}
